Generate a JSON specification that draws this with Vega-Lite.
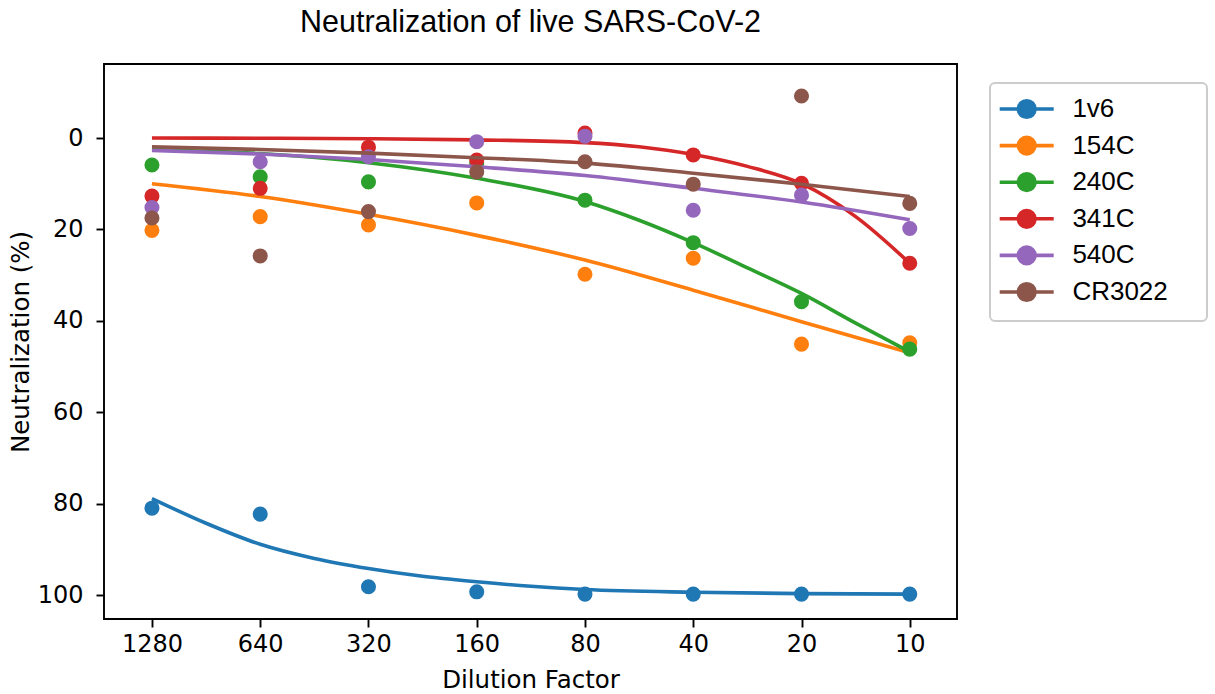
{
 "$schema": "https://vega.github.io/schema/vega-lite/v6.json",
 "width": 853, "height": 555,
 "autosize": {"type": "none"},
 "padding": {"left": 104, "top": 64, "right": 258, "bottom": 75},
 "background": "#ffffff",
 "title": {"text": "Neutralization of live SARS-CoV-2", "font": "Liberation Sans", "fontSize": 30.5, "fontWeight": "normal", "color": "#000000", "anchor": "middle", "offset": 26},
 "datasets": {
  "all": [
   {"antibody":"1v6","kind":"obs","dilution":1280,"neutralization":81},
   {"antibody":"1v6","kind":"obs","dilution":640,"neutralization":82.3},
   {"antibody":"1v6","kind":"obs","dilution":320,"neutralization":98.2},
   {"antibody":"1v6","kind":"obs","dilution":160,"neutralization":99.3},
   {"antibody":"1v6","kind":"obs","dilution":80,"neutralization":99.8},
   {"antibody":"1v6","kind":"obs","dilution":40,"neutralization":99.8},
   {"antibody":"1v6","kind":"obs","dilution":20,"neutralization":99.8},
   {"antibody":"1v6","kind":"obs","dilution":10,"neutralization":99.8},
   {"antibody":"154C","kind":"obs","dilution":1280,"neutralization":20.2},
   {"antibody":"154C","kind":"obs","dilution":640,"neutralization":17.2},
   {"antibody":"154C","kind":"obs","dilution":320,"neutralization":19},
   {"antibody":"154C","kind":"obs","dilution":160,"neutralization":14.2},
   {"antibody":"154C","kind":"obs","dilution":80,"neutralization":29.8},
   {"antibody":"154C","kind":"obs","dilution":40,"neutralization":26.3},
   {"antibody":"154C","kind":"obs","dilution":20,"neutralization":45.1},
   {"antibody":"154C","kind":"obs","dilution":10,"neutralization":44.8},
   {"antibody":"240C","kind":"obs","dilution":1280,"neutralization":5.9},
   {"antibody":"240C","kind":"obs","dilution":640,"neutralization":8.5},
   {"antibody":"240C","kind":"obs","dilution":320,"neutralization":9.6},
   {"antibody":"240C","kind":"obs","dilution":160,"neutralization":5.5},
   {"antibody":"240C","kind":"obs","dilution":80,"neutralization":13.6},
   {"antibody":"240C","kind":"obs","dilution":40,"neutralization":22.9},
   {"antibody":"240C","kind":"obs","dilution":20,"neutralization":35.8},
   {"antibody":"240C","kind":"obs","dilution":10,"neutralization":46.2},
   {"antibody":"341C","kind":"obs","dilution":1280,"neutralization":12.7},
   {"antibody":"341C","kind":"obs","dilution":640,"neutralization":11},
   {"antibody":"341C","kind":"obs","dilution":320,"neutralization":2.0},
   {"antibody":"341C","kind":"obs","dilution":160,"neutralization":4.8},
   {"antibody":"341C","kind":"obs","dilution":80,"neutralization":-1.1},
   {"antibody":"341C","kind":"obs","dilution":40,"neutralization":3.7},
   {"antibody":"341C","kind":"obs","dilution":20,"neutralization":9.9},
   {"antibody":"341C","kind":"obs","dilution":10,"neutralization":27.4},
   {"antibody":"540C","kind":"obs","dilution":1280,"neutralization":15.2},
   {"antibody":"540C","kind":"obs","dilution":640,"neutralization":5.2},
   {"antibody":"540C","kind":"obs","dilution":320,"neutralization":4.1},
   {"antibody":"540C","kind":"obs","dilution":160,"neutralization":0.8},
   {"antibody":"540C","kind":"obs","dilution":80,"neutralization":-0.4},
   {"antibody":"540C","kind":"obs","dilution":40,"neutralization":15.8},
   {"antibody":"540C","kind":"obs","dilution":20,"neutralization":12.5},
   {"antibody":"540C","kind":"obs","dilution":10,"neutralization":19.8},
   {"antibody":"CR3022","kind":"obs","dilution":1280,"neutralization":17.5},
   {"antibody":"CR3022","kind":"obs","dilution":640,"neutralization":25.8},
   {"antibody":"CR3022","kind":"obs","dilution":320,"neutralization":16.1},
   {"antibody":"CR3022","kind":"obs","dilution":160,"neutralization":7.4},
   {"antibody":"CR3022","kind":"obs","dilution":80,"neutralization":5.2},
   {"antibody":"CR3022","kind":"obs","dilution":40,"neutralization":10.1},
   {"antibody":"CR3022","kind":"obs","dilution":20,"neutralization":-9.2},
   {"antibody":"CR3022","kind":"obs","dilution":10,"neutralization":14.3},

   {"antibody":"1v6","kind":"fit","dilution":1280,"neutralization":78.9},
   {"antibody":"1v6","kind":"fit","dilution":905.1,"neutralization":84.3},
   {"antibody":"1v6","kind":"fit","dilution":640,"neutralization":88.9},
   {"antibody":"1v6","kind":"fit","dilution":452.5,"neutralization":92},
   {"antibody":"1v6","kind":"fit","dilution":320,"neutralization":94.2},
   {"antibody":"1v6","kind":"fit","dilution":226.3,"neutralization":95.9},
   {"antibody":"1v6","kind":"fit","dilution":160,"neutralization":97.1},
   {"antibody":"1v6","kind":"fit","dilution":113.1,"neutralization":98.1},
   {"antibody":"1v6","kind":"fit","dilution":80,"neutralization":98.8},
   {"antibody":"1v6","kind":"fit","dilution":40,"neutralization":99.4},
   {"antibody":"1v6","kind":"fit","dilution":20,"neutralization":99.7},
   {"antibody":"1v6","kind":"fit","dilution":10,"neutralization":99.8},
   {"antibody":"154C","kind":"fit","dilution":1280,"neutralization":10},
   {"antibody":"154C","kind":"fit","dilution":640,"neutralization":12.8},
   {"antibody":"154C","kind":"fit","dilution":320,"neutralization":16.7},
   {"antibody":"154C","kind":"fit","dilution":160,"neutralization":21.3},
   {"antibody":"154C","kind":"fit","dilution":80,"neutralization":26.7},
   {"antibody":"154C","kind":"fit","dilution":40,"neutralization":33.3},
   {"antibody":"154C","kind":"fit","dilution":20,"neutralization":40.2},
   {"antibody":"154C","kind":"fit","dilution":10,"neutralization":47},
   {"antibody":"240C","kind":"fit","dilution":1280,"neutralization":2.5},
   {"antibody":"240C","kind":"fit","dilution":640,"neutralization":3.4},
   {"antibody":"240C","kind":"fit","dilution":320,"neutralization":5.4},
   {"antibody":"240C","kind":"fit","dilution":160,"neutralization":8.8},
   {"antibody":"240C","kind":"fit","dilution":80,"neutralization":13.9},
   {"antibody":"240C","kind":"fit","dilution":56.57,"neutralization":18},
   {"antibody":"240C","kind":"fit","dilution":40,"neutralization":22.9},
   {"antibody":"240C","kind":"fit","dilution":28.28,"neutralization":28.4},
   {"antibody":"240C","kind":"fit","dilution":20,"neutralization":34},
   {"antibody":"240C","kind":"fit","dilution":14.14,"neutralization":40.5},
   {"antibody":"240C","kind":"fit","dilution":10,"neutralization":46.8},
   {"antibody":"341C","kind":"fit","dilution":1280,"neutralization":0},
   {"antibody":"341C","kind":"fit","dilution":640,"neutralization":0.05},
   {"antibody":"341C","kind":"fit","dilution":320,"neutralization":0.15},
   {"antibody":"341C","kind":"fit","dilution":160,"neutralization":0.4},
   {"antibody":"341C","kind":"fit","dilution":80,"neutralization":1.0},
   {"antibody":"341C","kind":"fit","dilution":56.57,"neutralization":1.9},
   {"antibody":"341C","kind":"fit","dilution":40,"neutralization":3.6},
   {"antibody":"341C","kind":"fit","dilution":28.28,"neutralization":6.2},
   {"antibody":"341C","kind":"fit","dilution":20,"neutralization":10},
   {"antibody":"341C","kind":"fit","dilution":14.14,"neutralization":17.2},
   {"antibody":"341C","kind":"fit","dilution":10,"neutralization":27.4},
   {"antibody":"540C","kind":"fit","dilution":1280,"neutralization":2.7},
   {"antibody":"540C","kind":"fit","dilution":640,"neutralization":3.5},
   {"antibody":"540C","kind":"fit","dilution":320,"neutralization":4.7},
   {"antibody":"540C","kind":"fit","dilution":160,"neutralization":6.3},
   {"antibody":"540C","kind":"fit","dilution":80,"neutralization":8.2},
   {"antibody":"540C","kind":"fit","dilution":40,"neutralization":11},
   {"antibody":"540C","kind":"fit","dilution":20,"neutralization":14},
   {"antibody":"540C","kind":"fit","dilution":10,"neutralization":17.9},
   {"antibody":"CR3022","kind":"fit","dilution":1280,"neutralization":1.9},
   {"antibody":"CR3022","kind":"fit","dilution":640,"neutralization":2.5},
   {"antibody":"CR3022","kind":"fit","dilution":320,"neutralization":3.3},
   {"antibody":"CR3022","kind":"fit","dilution":160,"neutralization":4.3},
   {"antibody":"CR3022","kind":"fit","dilution":80,"neutralization":5.5},
   {"antibody":"CR3022","kind":"fit","dilution":40,"neutralization":7.7},
   {"antibody":"CR3022","kind":"fit","dilution":20,"neutralization":10.1},
   {"antibody":"CR3022","kind":"fit","dilution":10,"neutralization":12.8}
  ]
 },
 "data": {"name": "all"},
 "encoding": {
  "x": {"field": "dilution", "type": "quantitative",
        "scale": {"type": "log", "domain": [7.39, 1740], "reverse": true, "nice": false},
        "axis": {"title": "Dilution Factor", "values": [1280, 640, 320, 160, 80, 40, 20, 10], "format": "d", "labelPadding": 5, "titlePadding": 12, "labelFlush": false, "labelOverlap": false}},
  "y": {"field": "neutralization", "type": "quantitative",
        "scale": {"domain": [-16.2, 105.25], "reverse": true, "nice": false, "zero": false},
        "axis": {"title": "Neutralization (%)", "values": [0, 20, 40, 60, 80, 100], "labelPadding": 13, "titlePadding": 4}},
  "color": {"field": "antibody", "type": "nominal",
        "scale": {"domain": ["1v6", "154C", "240C", "341C", "540C", "CR3022"], "range": ["#1f77b4", "#ff7f0e", "#2ca02c", "#d62728", "#9467bd", "#8c564b"]},
        "legend": {"title": null, "orient": "none", "legendX": 886, "legendY": 19,
                   "padding": 13, "rowPadding": 4.6,
                   "symbolType": "M-3.25,0H3.25M-1,0A1,1 0 1,0 1,0A1,1 0 1,0 -1,0ZM19.2,0",
                   "symbolSize": 276, "symbolStrokeWidth": 3.6, "symbolOffset": 10.7, "labelOffset": 32.7,
                   "labelFont": "Liberation Sans", "labelFontSize": 26, "labelColor": "#000000",
                   "strokeColor": "#cccccc", "fillColor": "#ffffff", "cornerRadius": 5,
                   "encode": {
                     "symbols": {"update": {"fill": {"scale": "color", "field": "value"}, "stroke": {"scale": "color", "field": "value"}, "opacity": {"value": 1}}},
                     "legend": {"update": {"strokeWidth": {"value": 2}}}
                   }}}
 },
 "layer": [
  {"transform": [{"filter": "datum.antibody === '1v6'"}], "layer": [
    {"transform": [{"filter": "datum.kind === 'fit'"}], "mark": {"type": "line", "strokeWidth": 3.6, "interpolate": "monotone"}, "encoding": {}},
    {"transform": [{"filter": "datum.kind === 'obs'"}], "mark": {"type": "circle", "size": 227, "opacity": 1}}]},
  {"transform": [{"filter": "datum.antibody === '154C'"}], "layer": [
    {"transform": [{"filter": "datum.kind === 'fit'"}], "mark": {"type": "line", "strokeWidth": 3.6, "interpolate": "monotone"}, "encoding": {}},
    {"transform": [{"filter": "datum.kind === 'obs'"}], "mark": {"type": "circle", "size": 227, "opacity": 1}}]},
  {"transform": [{"filter": "datum.antibody === '240C'"}], "layer": [
    {"transform": [{"filter": "datum.kind === 'fit'"}], "mark": {"type": "line", "strokeWidth": 3.6, "interpolate": "monotone"}, "encoding": {}},
    {"transform": [{"filter": "datum.kind === 'obs'"}], "mark": {"type": "circle", "size": 227, "opacity": 1}}]},
  {"transform": [{"filter": "datum.antibody === '341C'"}], "layer": [
    {"transform": [{"filter": "datum.kind === 'fit'"}], "mark": {"type": "line", "strokeWidth": 3.6, "interpolate": "monotone"}, "encoding": {}},
    {"transform": [{"filter": "datum.kind === 'obs'"}], "mark": {"type": "circle", "size": 227, "opacity": 1}}]},
  {"transform": [{"filter": "datum.antibody === '540C'"}], "layer": [
    {"transform": [{"filter": "datum.kind === 'fit'"}], "mark": {"type": "line", "strokeWidth": 3.6, "interpolate": "monotone"}, "encoding": {}},
    {"transform": [{"filter": "datum.kind === 'obs'"}], "mark": {"type": "circle", "size": 227, "opacity": 1}}]},
  {"transform": [{"filter": "datum.antibody === 'CR3022'"}], "layer": [
    {"transform": [{"filter": "datum.kind === 'fit'"}], "mark": {"type": "line", "strokeWidth": 3.6, "interpolate": "monotone"}, "encoding": {}},
    {"transform": [{"filter": "datum.kind === 'obs'"}], "mark": {"type": "circle", "size": 227, "opacity": 1}}]}
 ],
 "config": {
  "view": {"stroke": "#000000", "strokeWidth": 1.9},
  "axis": {"domain": false, "grid": false, "ticks": true, "tickColor": "#000000", "tickWidth": 1.9, "tickSize": 8,
           "labelFont": "DejaVu Sans", "labelFontSize": 24, "labelColor": "#000000",
           "titleFont": "DejaVu Sans", "titleFontSize": 24.5, "titleFontWeight": "normal", "titleColor": "#000000"}
 }
}
